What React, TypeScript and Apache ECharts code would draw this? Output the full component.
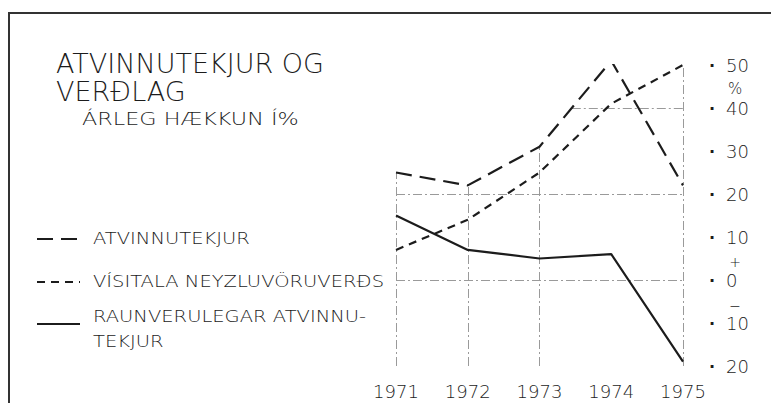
import React, { useEffect, useRef } from "react";
import * as echarts from "echarts";

const years = [1971, 1972, 1973, 1974, 1975];
const atvinnutekjur = [25, 22, 31, 51, 22];
const visitala = [7, 14, 25, 41, 50];
const raunverulegar = [15, 7, 5, 6, -19];
const yMin = -20;
const yMax = 50;
const yStep = 10;
const gridLevels = [0, 20, 40];
const titleLines = ["ATVINNUTEKJUR OG", "VERÐLAG"];
const subtitle = "ÁRLEG HÆKKUN Í%";
const seriesNames = ["ATVINNUTEKJUR", "VÍSITALA NEYZLUVÖRUVERÐS", "RAUNVERULEGAR ATVINNU-\nTEKJUR"];

const FONT = "'DejaVu Sans', sans-serif";
const W = 200;
const INK = "#1c1c1c";

const allSeries = [atvinnutekjur, visitala, raunverulegar];

function levelStart(level: number): number {
  const env = (i: number) => Math.max(...allSeries.map((s) => s[i]));
  if (env(0) >= level) return years[0];
  for (let i = 0; i < years.length - 1; i++) {
    if (env(i) < level && env(i + 1) >= level) {
      let best = 1;
      allSeries.forEach((s) => {
        if (s[i] < level && s[i + 1] >= level) {
          const t = (level - s[i]) / (s[i + 1] - s[i]);
          if (t < best) best = t;
        }
      });
      return years[i] + best * (years[i + 1] - years[i]);
    }
  }
  return years[years.length - 1];
}

export default function App() {
  const ref = useRef<HTMLDivElement>(null);
  useEffect(() => {
    if (!ref.current) return;
    const chart = echarts.init(ref.current, null, { renderer: "svg" });
    const toData = (arr: number[]) => years.map((y, i) => [y, arr[i]]);
    const gridLineStyle = { color: "#9a9a9a", width: 1, type: [9, 3, 2, 3] as any };
    const markData: any[] = [];
    years.forEach((y, i) => {
      const top = Math.max(...allSeries.map((s) => s[i]));
      markData.push([{ coord: [y, yMin] }, { coord: [y, top] }]);
    });
    gridLevels.forEach((lv) => {
      markData.push([{ coord: [levelStart(lv), lv] }, { coord: [years[years.length - 1], lv] }]);
    });
    const lineStyles = [
      { type: [16, 8] as any, width: 2.2 },
      { type: [8, 6] as any, width: 2.2 },
      { type: "solid" as any, width: 2.2 },
    ];
    const legendY = [239, 282, 324];
    const legendTextY = [238, 281, 304];
    const graphic: any[] = [
      { type: "line", shape: { x1: 8, y1: 13, x2: 771, y2: 13 }, style: { stroke: "#333", lineWidth: 2 } },
      { type: "line", shape: { x1: 9, y1: 12, x2: 9, y2: 403 }, style: { stroke: "#333", lineWidth: 2 } },
      {
        type: "text", x: 56, y: 63,
        style: { text: titleLines[0], font: `${W} 27px ${FONT}`, fill: INK, textVerticalAlign: "middle" },
      },
      {
        type: "text", x: 56, y: 91,
        style: { text: titleLines[1], font: `${W} 27px ${FONT}`, fill: INK, textVerticalAlign: "middle" },
      },
      {
        type: "text", x: 82, y: 119, scaleX: 1.24,
        style: { text: subtitle, font: `${W} 18px ${FONT}`, fill: INK, textVerticalAlign: "middle" },
      },
      { type: "text", x: 735, y: 89, style: { text: "%", font: `${W} 15px ${FONT}`, fill: INK, textAlign: "center", textVerticalAlign: "middle" } },
      { type: "text", x: 735, y: 262, style: { text: "+", font: `${W} 14px ${FONT}`, fill: INK, textAlign: "center", textVerticalAlign: "middle" } },
      { type: "text", x: 735, y: 306, style: { text: "−", font: `300 14px ${FONT}`, fill: INK, textAlign: "center", textVerticalAlign: "middle" } },
    ];
    seriesNames.forEach((name, i) => {
      graphic.push({
        type: "line",
        shape: { x1: 37, y1: legendY[i], x2: 80, y2: legendY[i] },
        style: { stroke: INK, lineWidth: 2.2, lineDash: lineStyles[i].type === "solid" ? null : lineStyles[i].type },
      });
      graphic.push({
        type: "text", x: 93, y: legendTextY[i], scaleX: 1.22,
        style: { text: name, font: `${W} 16px ${FONT}`, fill: INK, textVerticalAlign: i === 2 ? "top" : "middle", lineHeight: 25 },
      });
    });
    chart.setOption({
      animation: false,
      backgroundColor: "#ffffff",
      grid: { left: 396, right: 88, top: 65, bottom: 37 },
      xAxis: {
        type: "value", min: years[0], max: years[years.length - 1], interval: 1,
        axisLine: { show: false }, axisTick: { show: false }, splitLine: { show: false },
        axisLabel: { formatter: (v: number) => String(v), fontSize: 18, fontFamily: FONT, fontWeight: W, color: INK, margin: 16 },
      },
      yAxis: {
        type: "value", position: "right", min: yMin, max: yMax, interval: yStep,
        axisLine: { show: false }, axisTick: { show: false }, splitLine: { show: false },
        axisLabel: {
          margin: 26,
          formatter: (v: number) => `{d|·}{n|${Math.abs(v)}}`,
          rich: {
            d: { width: 17, fontSize: 16, fontFamily: FONT, color: INK, fontWeight: "bold" },
            n: { fontSize: 18, fontFamily: FONT, fontWeight: W, color: INK },
          },
        },
      },
      graphic,
      series: [
        {
          name: "Atvinnutekjur", type: "line", data: toData(atvinnutekjur), symbol: "none",
          lineStyle: { color: INK, ...lineStyles[0] }, z: 3,
          markLine: {
            silent: true, symbol: ["none", "none"], label: { show: false },
            lineStyle: gridLineStyle, emphasis: { disabled: true }, data: markData, z: 1,
          },
        },
        { name: "Vísitala neyzluvöruverðs", type: "line", data: toData(visitala), symbol: "none", lineStyle: { color: INK, ...lineStyles[1] }, z: 3 },
        { name: "Raunverulegar atvinnutekjur", type: "line", data: toData(raunverulegar), symbol: "none", lineStyle: { color: INK, ...lineStyles[2] }, z: 3 },
      ],
    });
    return () => chart.dispose();
  }, []);
  return <div ref={ref} style={{ position: "fixed", left: 0, top: 0, width: 771, height: 403 }} />;
}
